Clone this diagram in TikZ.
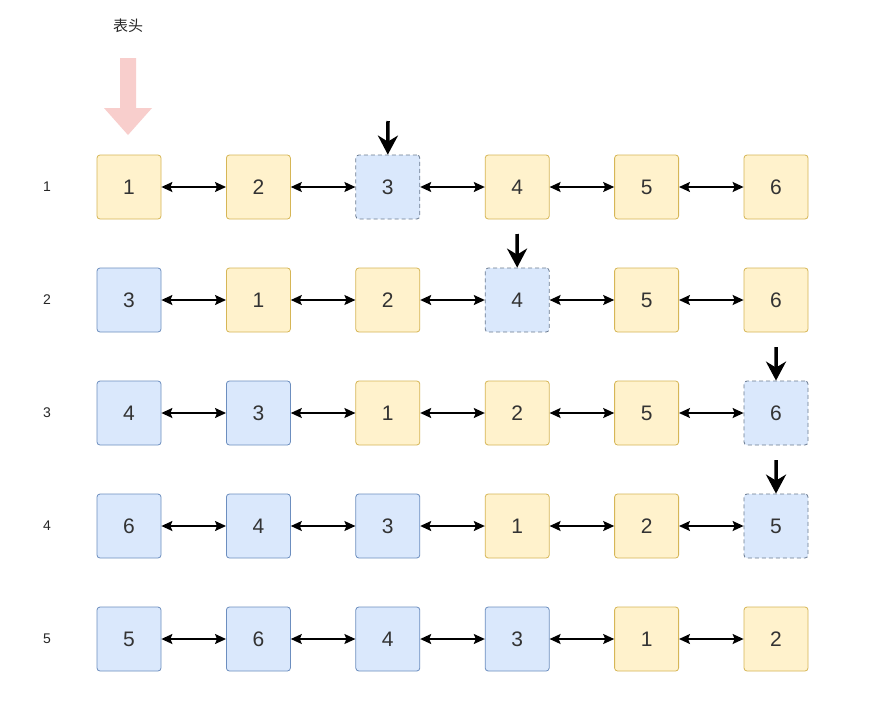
\documentclass[tikz,border=0pt]{standalone}
\usepackage{fontspec}
\setmainfont{Liberation Sans}
\newfontfamily\cjk{Noto Sans CJK SC}
\usetikzlibrary{arrows.meta}
\definecolor{yfill}{HTML}{FFF2CC}
\definecolor{ydraw}{HTML}{D6B656}
\definecolor{bfill}{HTML}{DAE8FC}
\definecolor{bdraw}{HTML}{6C8EBF}
\definecolor{ddraw}{HTML}{6A7A90}
\definecolor{pinkfill}{HTML}{F8CECC}
\tikzset{
  base/.style={minimum width=64pt,minimum height=64pt,rounded corners=3pt,line width=0.8pt,font=\fontsize{21}{24}\selectfont,text=black!80,inner sep=0pt},
  Y/.style={base,fill=yfill,draw=ydraw},
  B/.style={base,fill=bfill,draw=bdraw},
  D/.style={base,fill=bfill,draw=ddraw,dash pattern=on 4pt off 3pt},
  link/.style={{Stealth[length=11pt,width=10pt,inset=2pt]}-{Stealth[length=11pt,width=10pt,inset=2pt]},line width=1.5pt},
  ptr/.style={-{Stealth[length=19pt,width=20pt,inset=6pt]},line width=3.5pt},
  rowlab/.style={font=\fontsize{14}{16}\selectfont,text=black!85}
}
\begin{document}
\begin{tikzpicture}[x=1pt,y=-1pt]
\useasboundingbox[fill=white] (0,0) rectangle (869,715);
\node[font=\cjk\fontsize{15}{18}\selectfont,text=black!85] (head) at (128,26) {表头};
\fill[pinkfill] (120,58) -- (136,58) -- (136,108) -- (152,108) -- (128,135) -- (104,108) -- (120,108) -- cycle;
\foreach \r/\row in {1/{Y/1,Y/2,D/3,Y/4,Y/5,Y/6},2/{B/3,Y/1,Y/2,D/4,Y/5,Y/6},3/{B/4,B/3,Y/1,Y/2,Y/5,D/6},4/{B/6,B/4,B/3,Y/1,Y/2,D/5},5/{B/5,B/6,B/4,B/3,Y/1,Y/2}}{
  \pgfmathsetmacro\yy{187+(\r-1)*113}
  \node[rowlab] (l\r) at (47,\yy) {\r};
  \foreach \s/\t [count=\i] in \row {
    \pgfmathsetmacro\xx{129+(\i-1)*129.4}
    \node[\s] (n\r-\i) at (\xx,\yy) {\t};
  }
  \foreach \i [evaluate=\i as \j using int(\i+1)] in {1,...,5}{
    \draw[link] (n\r-\i) -- (n\r-\j);
  }
}
\coordinate (p1) at (388,121);
\coordinate (p2) at (517,234);
\coordinate (p3) at (776,347);
\coordinate (p4) at (776,460);
\draw[ptr] (p1) -- (n1-3.north);
\draw[ptr] (p2) -- (n2-4.north);
\draw[ptr] (p3) -- (n3-6.north);
\draw[ptr] (p4) -- (n4-6.north);
\end{tikzpicture}
\end{document}
